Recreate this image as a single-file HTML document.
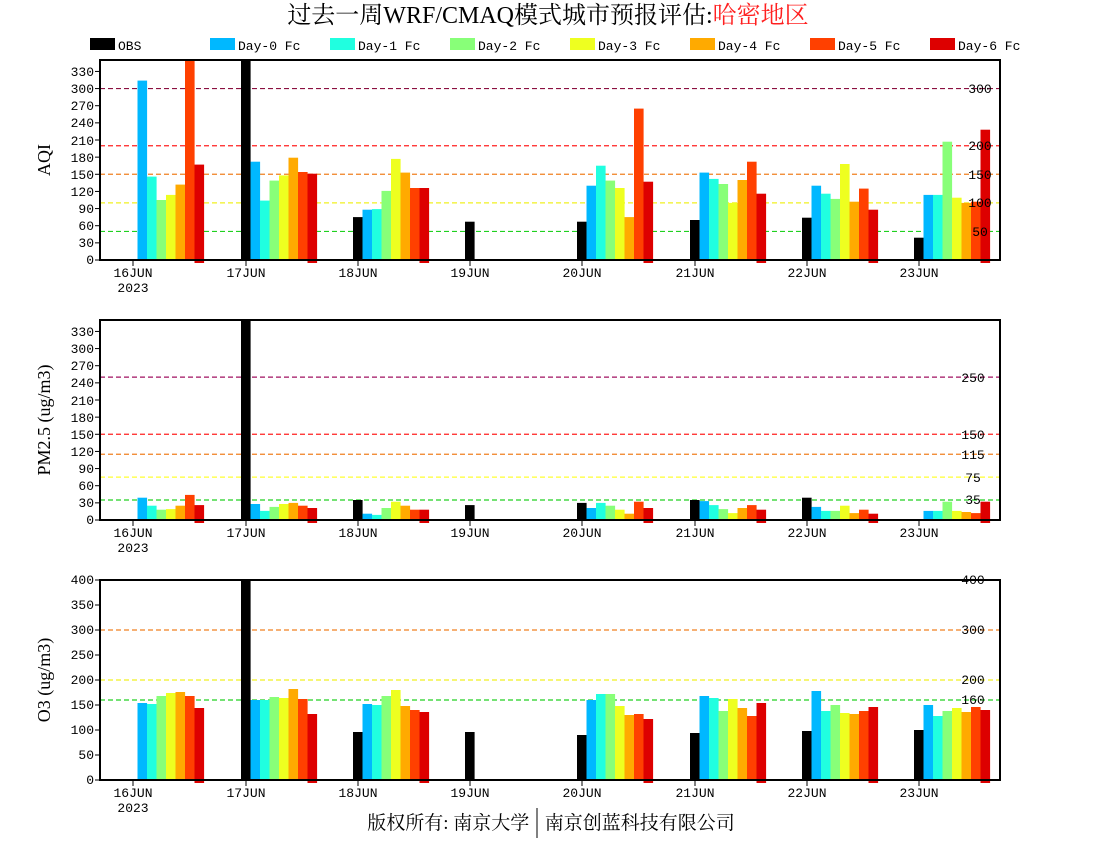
<!DOCTYPE html>
<html><head><meta charset="utf-8"><style>
html,body{margin:0;padding:0;background:#fff;}
svg{display:block;}
text{font-family:"Liberation Mono","Noto Sans CJK SC",monospace;font-size:13px;fill:#000;}
.t{font-family:"Liberation Serif","Noto Serif CJK SC",serif;}
</style></head><body>
<svg id="s" width="1100" height="850" xmlns="http://www.w3.org/2000/svg">
<g id="g"></g>
<text x="548" y="23" text-anchor="middle" class="t" style="font-size:24px">过去一周WRF/CMAQ模式城市预报评估:<tspan fill="#ff2020">哈密地区</tspan></text>
<g id="leg" style="font-size:15px">
<text x="118" y="50">OBS</text><text x="238" y="50">Day-0 Fc</text><text x="358" y="50">Day-1 Fc</text><text x="478" y="50">Day-2 Fc</text>
<text x="598" y="50">Day-3 Fc</text><text x="718" y="50">Day-4 Fc</text><text x="838" y="50">Day-5 Fc</text><text x="958" y="50">Day-6 Fc</text>
</g>
<text class="t" transform="translate(50,160) rotate(-90)" text-anchor="middle" style="font-size:18px">AQI</text>
<text class="t" transform="translate(50,420) rotate(-90)" text-anchor="middle" style="font-size:18px">PM2.5 (ug/m3)</text>
<text class="t" transform="translate(50,680) rotate(-90)" text-anchor="middle" style="font-size:18px">O3 (ug/m3)</text>
<g text-anchor="end">
<text x="94" y="264">0</text><text x="94" y="247">30</text><text x="94" y="230">60</text><text x="94" y="213">90</text><text x="94" y="196">120</text><text x="94" y="179">150</text><text x="94" y="162">180</text><text x="94" y="145">210</text><text x="94" y="127">240</text><text x="94" y="110">270</text><text x="94" y="93">300</text><text x="94" y="76">330</text>
<text x="94" y="524">0</text><text x="94" y="507">30</text><text x="94" y="490">60</text><text x="94" y="473">90</text><text x="94" y="456">120</text><text x="94" y="439">150</text><text x="94" y="422">180</text><text x="94" y="405">210</text><text x="94" y="387">240</text><text x="94" y="370">270</text><text x="94" y="353">300</text><text x="94" y="336">330</text>
<text x="94" y="784">0</text><text x="94" y="759">50</text><text x="94" y="734">100</text><text x="94" y="709">150</text><text x="94" y="684">200</text><text x="94" y="659">250</text><text x="94" y="634">300</text><text x="94" y="609">350</text><text x="94" y="584">400</text>
</g>
<g text-anchor="middle">
<text x="980" y="93">300</text><text x="980" y="150">200</text><text x="980" y="179">150</text><text x="980" y="207">100</text><text x="980" y="236">50</text>
<text x="973" y="382">250</text><text x="973" y="439">150</text><text x="973" y="459">115</text><text x="973" y="482">75</text><text x="973" y="504">35</text>
<text x="973" y="584">400</text><text x="973" y="634">300</text><text x="973" y="684">200</text><text x="973" y="704">160</text>
</g>
<g id="dates" text-anchor="middle"></g>
<text x="551" y="829" text-anchor="middle" class="t" style="font-size:19px">版权所有: 南京大学<tspan fill="#fff">_</tspan><tspan dx="6">南京创蓝科技有限公司</tspan></text>
<line x1="537" y1="808" x2="537" y2="838" stroke="#000" stroke-width="1"/>
</svg>
<script>
var NS="http://www.w3.org/2000/svg",G=document.getElementById('g'),D=document.getElementById('dates');
function el(t,a,p){var e=document.createElementNS(NS,t);for(var k in a)e.setAttribute(k,a[k]);(p||G).appendChild(e);return e;}
var C=["#000","#00b8ff","#20ffe0","#88ff78","#eeff20","#ffaa00","#ff4000","#dd0000"];
var LX=[90,210,330,450,570,690,810,930];
LX.forEach(function(x,i){el('rect',{x:x,y:38,width:25,height:12,fill:C[i]});});
var ticks=[133,246,358,470,582,695,807,919],names=["16JUN","17JUN","18JUN","19JUN","20JUN","21JUN","22JUN","23JUN"];
var P=[
 {top:60,bot:260,max:350,step:30,lines:[[300,"#8b1040"],[200,"#ff2020"],[150,"#f08020"],[100,"#f0f020"],[50,"#20d020"]],
  d:[[null,314,146,105,114,132,400,167],[400,172,104,139,148,179,154,151],[75,88,89,121,177,153,126,126],[67],
     [67,130,165,139,126,75,265,137],[70,153,142,133,100,140,172,116],[74,130,116,107,168,102,125,88],[39,114,114,207,109,100,102,228]]},
 {top:320,bot:520,max:350,step:30,lines:[[250,"#a01060"],[150,"#ff2020"],[115,"#f08020"],[75,"#ffff30"],[35,"#20d020"]],
  d:[[null,39,25,18,19,25,44,26],[400,28,16,23,28,30,25,21],[35,11,9,21,32,25,18,18],[26],
     [30,21,30,25,18,11,32,21],[35,33,26,19,12,21,26,18],[39,23,16,16,25,12,18,11],[null,16,16,32,16,14,12,32]]},
 {top:580,bot:780,max:400,step:50,lines:[[400,"#ff2020"],[300,"#f08020"],[200,"#f0f020"],[160,"#20d020"]],
  d:[[null,154,152,168,174,176,168,144],[400,160,160,166,164,182,162,132],[96,152,150,168,180,148,140,136],[96],
     [90,160,172,172,148,130,132,122],[94,168,164,138,162,144,128,154],[98,178,138,150,134,132,138,146],[100,150,128,138,144,136,146,140]]}
];
P.forEach(function(p,pi){
 var s=(p.bot-p.top)/p.max;
 p.lines.forEach(function(l){var y=p.bot-l[0]*s;el('line',{x1:100,x2:1000,y1:y,y2:y,stroke:l[1],'stroke-width':1.2,'stroke-dasharray':'5,3'});});
 p.d.forEach(function(vals,di){vals.forEach(function(v,i){if(v==null)return;var vv=Math.min(v,p.max);var h=vv*s;
   var x=ticks[di]-5+i*9.5;el('rect',{x:x.toFixed(1),y:(p.bot-h).toFixed(1),width:9.6,height:(h+(i==7?3:0)).toFixed(1),fill:C[i]});});});
 for(var v=0;v<=p.max;v+=p.step){var y=p.bot-v*s;el('line',{x1:95,x2:100,y1:y,y2:y,stroke:'#000','stroke-width':1});}
 ticks.forEach(function(t,i){el('line',{x1:t,x2:t,y1:p.bot,y2:p.bot+6,stroke:'#000','stroke-width':1});
   var tx=el('text',{x:t,y:p.bot+17},D);tx.textContent=names[i];});
 var ty=el('text',{x:133,y:p.bot+32},D);ty.textContent="2023";
 el('rect',{x:100,y:p.top,width:900,height:p.bot-p.top,fill:'none',stroke:'#000','stroke-width':2});
});
</script>
</body></html>
